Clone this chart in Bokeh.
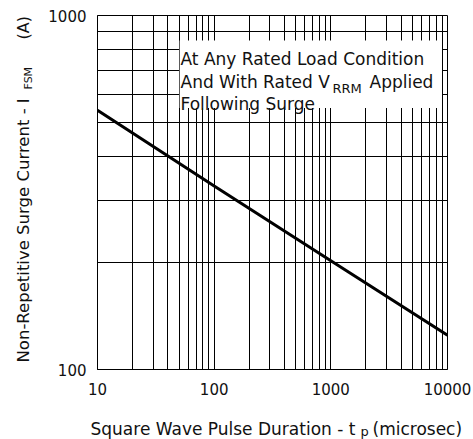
import math
from bokeh.plotting import figure
from bokeh.layouts import row, column
from bokeh.models import (Label, BoxAnnotation, FixedTicker, NumeralTickFormatter,
                          ColumnDataSource, Range1d)
from bokeh.embed import file_html
from bokeh.resources import INLINE

# ---- data ----
pulse_us = [10, 100, 1000, 10000]
surge_a = [540, 330, 203, 125]

x_major = [10, 100, 1000, 10000]
y_major = [100, 1000]
x_grid = [m * 10 ** k for k in (1, 2, 3) for m in range(1, 10)] + [10000]
y_grid = [m * 100 for m in range(1, 11)]

box_lines = ["At Any Rated Load Condition", "And With Rated V", "Following Surge"]
box_sub = "RRM"
box_after = "Applied"
x_title = "Square Wave Pulse Duration - t"
x_sub = "p"
x_after = "(microsec)"
y_title = "Non-Repetitive Surge Current - I"
y_sub = "FSM"
y_after = "(A)"

FONT = "DejaVu Sans"
INK = "#111111"

LEFT_W = 40      # left strip width (y title)
MAIN_H = 407     # main figure height
W, H = 473, 439

# ---------------- main chart ----------------
p = figure(x_axis_type="log", y_axis_type="log",
           x_range=(10, 10000), y_range=(100, 1000),
           frame_width=350, frame_height=354,
           min_border_left=97 - LEFT_W, min_border_right=W - 447,
           min_border_top=15, min_border_bottom=MAIN_H - 369,
           output_backend="svg", toolbar_location=None, title=None)

p.background_fill_color = "white"
p.border_fill_color = "white"
p.outline_line_color = "black"
p.outline_line_width = 1

for ax in (p.xaxis[0], p.yaxis[0]):
    ax.axis_line_color = "black"
    ax.major_tick_out = 0
    ax.major_tick_in = 0
    ax.minor_tick_out = 0
    ax.minor_tick_in = 0
    ax.major_label_text_font = FONT
    ax.major_label_text_font_size = "15px"
    ax.major_label_text_color = INK
    ax.formatter = NumeralTickFormatter(format="0")

p.xaxis[0].ticker = FixedTicker(ticks=x_major)
p.yaxis[0].ticker = FixedTicker(ticks=y_major)
p.xaxis[0].major_label_standoff = 13
p.yaxis[0].major_label_standoff = 11

p.xgrid[0].ticker = FixedTicker(ticks=x_grid)
p.ygrid[0].ticker = FixedTicker(ticks=y_grid)
for g in (p.xgrid[0], p.ygrid[0]):
    g.grid_line_color = "black"
    g.grid_line_alpha = 1
    g.grid_line_width = 1

# white box behind the note
p.add_layout(BoxAnnotation(left=50 * 1.012, right=9000 / 1.003, top=850, bottom=548,
                           fill_color="white", fill_alpha=1, line_alpha=0,
                           level="underlay"))

src = ColumnDataSource(dict(x=pulse_us, y=surge_a))
p.line("x", "y", source=src, line_color="black", line_width=3)

FL, FB = 97, 369  # frame left / bottom in page pixels


def note(text, X, Y, size):
    p.add_layout(Label(x=X - FL, y=FB - Y, x_units="screen", y_units="screen",
                       text=text, text_font=FONT, text_font_size=f"{size}px",
                       text_color=INK, text_align="left", text_baseline="alphabetic"))


note(box_lines[0], 180, 58, 17)
note(box_lines[1], 180, 81, 17)
note(box_sub, 332, 88, 13)
note(box_after, 369, 81, 17)
note(box_lines[2], 180, 103, 17)


# ---------------- strips for axis titles ----------------
def strip(x0, x1, y0, y1):
    s = figure(width=x1 - x0, height=y1 - y0,
               x_range=Range1d(x0, x1), y_range=Range1d(y1, y0),
               min_border=0, min_border_left=0, min_border_right=0,
               min_border_top=0, min_border_bottom=0,
               output_backend="svg", toolbar_location=None,
               title=None, x_axis_location=None, y_axis_location=None)
    s.grid.visible = False
    s.outline_line_color = None
    s.background_fill_color = "white"
    s.border_fill_color = "white"
    return s


def put(fig, text, X, Y, size, angle=0.0):
    fig.add_layout(Label(x=X, y=Y, text=text, angle=angle, text_font=FONT,
                         text_font_size=f"{size}px", text_color=INK,
                         text_align="left", text_baseline="alphabetic"))


left = strip(0, LEFT_W, 0, H)
A = math.pi / 2
put(left, y_title, 23, 362, 16.5, A)
put(left, y_sub, 28, 89, 11, A)
put(left, y_after, 23, 39, 16, A)

bottom = strip(LEFT_W, W, MAIN_H, H)
put(bottom, x_title, 90, 428, 17)
put(bottom, x_sub, 360, 431, 13)
put(bottom, x_after, 372, 428, 17)

lay = row(left, column(p, row(bottom, spacing=0), spacing=0), spacing=0)

open("out.html", "w").write(file_html(lay, INLINE))
